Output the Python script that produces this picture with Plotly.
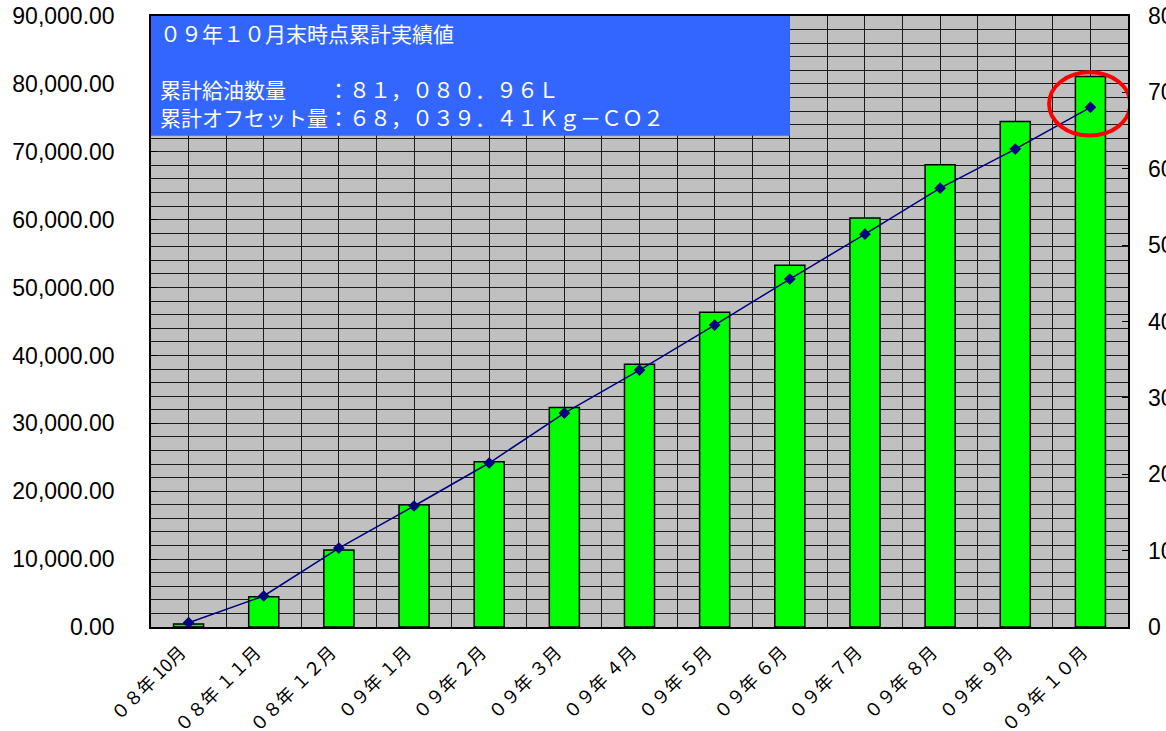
import plotly.graph_objects as go

categories = ["０８年 10月", "０８年 １１月", "０８年 １２月", "０９年 １月", "０９年 ２月", "０９年 ３月",
              "０９年 ４月", "０９年 ５月", "０９年 ６月", "０９年 ７月", "０９年 ８月", "０９年 ９月", "０９年 １０月"]
fuel_liters = [450, 4450, 11350, 18000, 24350, 32350, 38700, 46350, 53300, 60250, 68100, 74450, 81080.96]
co2_offset = [560, 4060, 10340, 15840, 21470, 28010, 33640, 39530, 45550, 51440, 57460, 62570, 68039.41]
left_ticks = [0, 10000, 20000, 30000, 40000, 50000, 60000, 70000, 80000, 90000]
right_ticks = [0, 10000, 20000, 30000, 40000, 50000, 60000, 70000, 80000]

box_lines = ["０９年１０月末時点累計実績値", "累計給油数量　　：８１，０８０．９６Ｌ",
             "累計オフセット量：６８，０３９．４１Ｋｇ－ＣＯ２"]
box_line_shift = [-17, -73, -101]

idx = list(range(len(categories)))
num_font = dict(family="Liberation Sans, Arial, sans-serif", size=23, color="black")
jp_font = "Noto Sans CJK JP, sans-serif"
grid_col = "#1a1a1a"

fig = go.Figure()
fig.add_trace(go.Bar(x=idx, y=fuel_liters, width=0.4,
                     marker=dict(color="#00FF00", line=dict(color="black", width=1.5)),
                     yaxis="y", showlegend=False))
fig.add_trace(go.Scatter(x=idx, y=co2_offset, mode="lines+markers",
                         line=dict(color="#000080", width=1.5),
                         marker=dict(symbol="diamond", size=9, color="#000080"),
                         yaxis="y2", showlegend=False))

fig.update_layout(
    width=1166, height=731,
    margin=dict(l=151, r=38, t=16, b=104, autoexpand=False),
    paper_bgcolor="white", plot_bgcolor="#C0C0C0",
    xaxis=dict(range=[-0.5, len(categories) - 0.5], tickmode="array", tickvals=idx, ticktext=categories,
               tickangle=-45, tickfont=dict(family=jp_font, size=18, color="black"),
               showgrid=True, gridcolor=grid_col, gridwidth=1,
               minor=dict(tickmode="linear", tick0=-0.5, dtick=1, showgrid=True, gridcolor=grid_col, gridwidth=1),
               showline=True, linecolor="black", linewidth=1.5, mirror=True, ticks="",
               zeroline=False, ticklabelstandoff=6, ticklabelshift=-8, automargin=False),
    yaxis=dict(range=[0, 90000], tickmode="array", tickvals=left_ticks, tickformat=",.2f",
               tickfont=num_font, showgrid=True, gridcolor=grid_col, gridwidth=1,
               minor=dict(dtick=2000, tick0=0, showgrid=True, gridcolor=grid_col, gridwidth=1),
               showline=True, linecolor="black", linewidth=1.5, mirror=True,
               ticks="inside", ticklen=6, tickcolor="black", zeroline=False, ticklabelstandoff=30,
               automargin=False),
    yaxis2=dict(range=[0, 80000], overlaying="y", side="right", tickmode="array", tickvals=right_ticks,
                tickformat=",", tickfont=num_font, showgrid=False,
                ticks="inside", ticklen=6, tickcolor="black", zeroline=False, ticklabelstandoff=19,
                automargin=False),
    bargap=0.6,
)

# blue info box
fig.add_shape(type="rect", xref="paper", yref="paper", x0=0, x1=0.654, y0=0.804, y1=1.0,
              fillcolor="#3366FF", line=dict(width=0), layer="above")
for line_text, shift in zip(box_lines, box_line_shift):
    fig.add_annotation(xref="paper", yref="paper", x=0, y=1, xanchor="left", yanchor="middle",
                       xshift=7, yshift=shift, align="left", showarrow=False,
                       text=line_text,
                       font=dict(family=jp_font, size=21, color="white"))

# red ellipse around the latest data point
last = len(categories) - 1
fig.add_shape(type="circle", xref="x", yref="y2",
              x0=last - 0.55, x1=last + 0.53,
              y0=co2_offset[-1] - 3700, y1=co2_offset[-1] + 4600,
              line=dict(color="#FF0000", width=4), layer="above")

fig.write_html("out.html", config={"displayModeBar": False},
               post_script="document.body.style.margin='0';")
